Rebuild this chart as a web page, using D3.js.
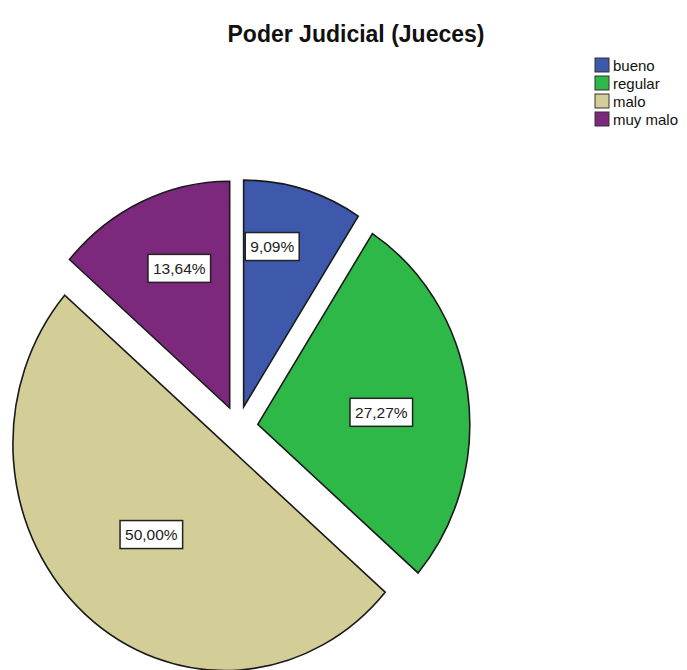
<!DOCTYPE html>
<html>
<head>
<meta charset="utf-8">
<script src="https://cdn.jsdelivr.net/npm/d3@7"></script>
<style>
  body { margin: 0; background: #fff; }
  svg { display: block; font-family: Arial, "Liberation Sans", sans-serif; }
</style>
</head>
<body>
<div id="chart"></div>
<script>
// Poder Judicial (Jueces) - exploded pie chart

// Data
const categories = ['bueno', 'regular', 'malo', 'muy malo'];
const percents = [9.09, 27.27, 50.00, 13.64];
const labels = ['9,09%', '27,27%', '50,00%', '13,64%'];
const colors = ['#3E58AC', '#2EB848', '#D3CE97', '#7C287D'];

const width = 687, height = 670;

// Pie layout (slightly taller than wide, like the reference)
const cx = 238, cy = 427.5;
const radius = 212;
const stretchY = 1.07;
const explode = 20;

// where each label sits inside its slice: [fraction of angle, fraction of radius]
const labelSpot = [[0.33, 0.72], [0.53, 0.585], [0.5, 0.53], [0.57, 0.66]];

const svg = d3.select('#chart')
    .append('svg')
    .attr('width', width)
    .attr('height', height);

// Title
svg.append('text')
    .attr('x', 356)
    .attr('y', 42)
    .attr('text-anchor', 'middle')
    .style('font-size', '23px')
    .style('font-weight', 'bold')
    .attr('fill', '#111')
    .text('Poder Judicial (Jueces)');

const pie = d3.pie().sort(null).value(d => d);
const slices = pie(percents);

const arc = d3.arc().innerRadius(0).outerRadius(radius);

const pieG = svg.append('g')
    .attr('transform', `translate(${cx}, ${cy}) scale(1, ${stretchY})`);

function offsetOf(d) {
    const mid = (d.startAngle + d.endAngle) / 2;
    return [explode * Math.sin(mid), -explode * Math.cos(mid)];
}

pieG.selectAll('.slice')
    .data(slices)
    .enter()
    .append('path')
    .attr('class', 'slice')
    .attr('d', arc)
    .attr('transform', d => {
        const [ox, oy] = offsetOf(d);
        return `translate(${ox}, ${oy})`;
    })
    .attr('fill', (d, i) => colors[i])
    .attr('stroke', '#1a1a1a')
    .attr('stroke-width', 1.6)
    .attr('vector-effect', 'non-scaling-stroke');

// Labels with white boxes
const labelG = svg.append('g');
slices.forEach((d, i) => {
    const [ox, oy] = offsetOf(d);
    const a = d.startAngle + (d.endAngle - d.startAngle) * labelSpot[i][0];
    const r = radius * labelSpot[i][1];
    const x = cx + ox + r * Math.sin(a);
    const y = cy + (oy - r * Math.cos(a)) * stretchY;

    const g = labelG.append('g').attr('transform', `translate(${x}, ${y})`);
    const box = g.append('rect');
    const t = g.append('text')
        .attr('text-anchor', 'middle')
        .attr('dy', '0.37em')
        .style('font-size', '15.5px')
        .attr('fill', '#222')
        .text(labels[i]);
    const w = t.node().getComputedTextLength() + 10;
    const h = 28;
    box.attr('x', -w / 2)
        .attr('y', -h / 2)
        .attr('width', w)
        .attr('height', h)
        .attr('fill', '#fff')
        .attr('stroke', '#222')
        .attr('stroke-width', 1.5);
});

// Legend
const legend = svg.append('g').attr('transform', 'translate(595, 58)');
const rowH = 18;
categories.forEach((c, i) => {
    const row = legend.append('g').attr('transform', `translate(0, ${i * rowH})`);
    row.append('rect')
        .attr('width', 14)
        .attr('height', 14)
        .attr('fill', colors[i])
        .attr('stroke', '#333')
        .attr('stroke-width', 1);
    row.append('text')
        .attr('x', 18)
        .attr('y', 12.5)
        .style('font-size', '15px')
        .attr('fill', '#111')
        .text(c);
});
</script>
</body>
</html>
